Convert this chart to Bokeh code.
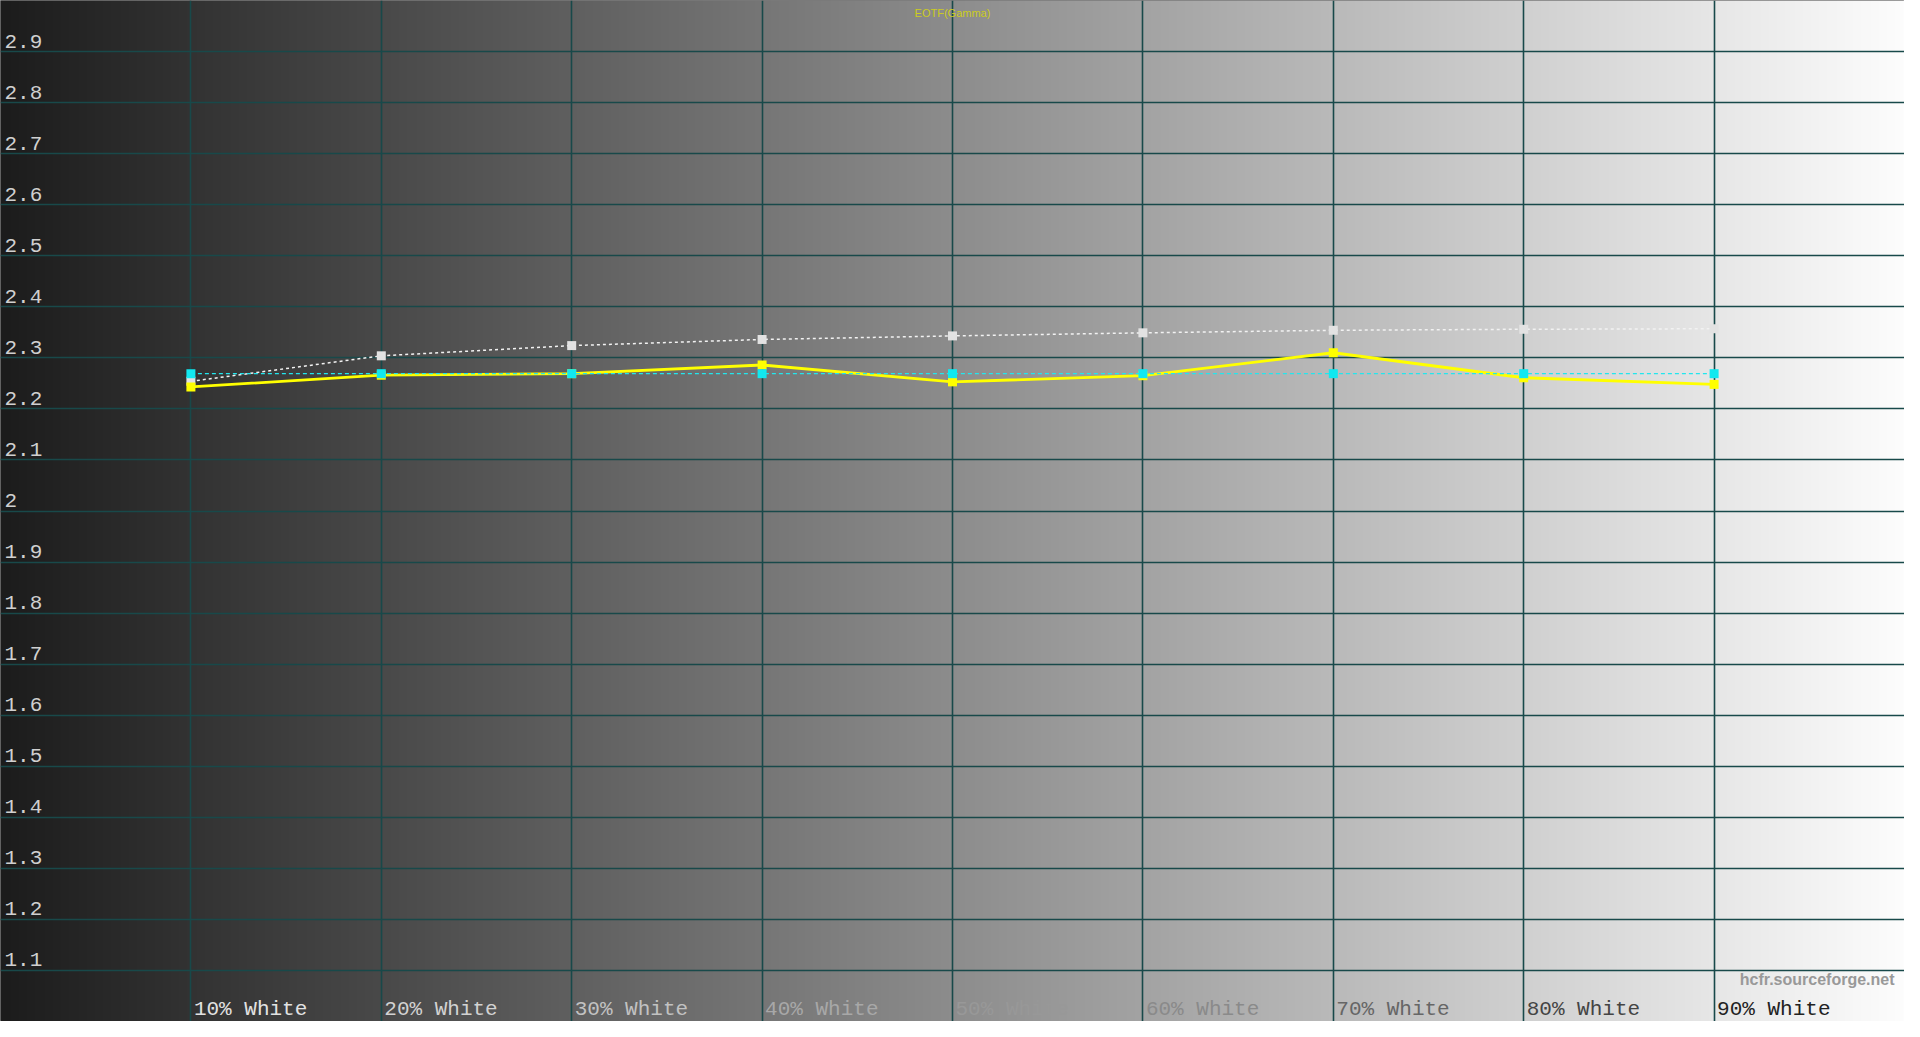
import numpy as np
from bokeh.plotting import figure
from bokeh.models import Range1d, FixedTicker, ColumnDataSource
from bokeh.core.properties import value
from bokeh.embed import file_html
from bokeh.resources import INLINE

# ---------------- data ----------------
categories = ["10% White", "20% White", "30% White", "40% White", "50% White",
              "60% White", "70% White", "80% White", "90% White"]
gamma_measured = [2.243, 2.266, 2.269, 2.286, 2.253, 2.265, 2.310, 2.261, 2.248]   # yellow
gamma_reference = [2.254, 2.304, 2.324, 2.336, 2.343, 2.349, 2.354, 2.356, 2.357]  # white dotted
gamma_target = [2.269, 2.269, 2.269, 2.269, 2.269, 2.269, 2.269, 2.269, 2.269]     # cyan dashed
y_ticks = [1.1, 1.2, 1.3, 1.4, 1.5, 1.6, 1.7, 1.8, 1.9, 2.0,
           2.1, 2.2, 2.3, 2.4, 2.5, 2.6, 2.7, 2.8, 2.9]
y_tick_labels = ["1.1", "1.2", "1.3", "1.4", "1.5", "1.6", "1.7", "1.8", "1.9", "2",
                 "2.1", "2.2", "2.3", "2.4", "2.5", "2.6", "2.7", "2.8", "2.9"]
chart_title = "EOTF(Gamma)"
watermark = "hcfr.sourceforge.net"

# ---------------- figure ----------------
W, H = 1904, 1021
x_pos = list(range(1, len(categories) + 1))

p = figure(width=W, height=H, output_backend="svg", toolbar_location=None,
           x_range=Range1d(0, len(categories) + 1), y_range=Range1d(1.0, 3.0),
           x_axis_location=None, y_axis_location=None, min_border=0)
p.outline_line_color = "#7a7a7a"
p.outline_line_width = 1
p.background_fill_color = "#808080"
p.border_fill_color = "#ffffff"

# horizontal gray gradient background
N = 952
img = np.empty((1, N), dtype=np.uint32)
view = img.view(dtype=np.uint8).reshape((1, N, 4))
g = np.linspace(28, 253, N).astype(np.uint8)
view[0, :, 0] = g
view[0, :, 1] = g
view[0, :, 2] = g
view[0, :, 3] = 255
p.image_rgba(image=[img], x=0, y=1.0, dw=len(categories) + 1, dh=2.0, level="image")

# grid
p.xgrid.ticker = FixedTicker(ticks=x_pos)
p.ygrid.ticker = FixedTicker(ticks=y_ticks)
p.grid.grid_line_color = "#18494a"
p.grid.grid_line_width = 1.6
p.grid.grid_line_alpha = 1.0

# series
src = ColumnDataSource(dict(x=x_pos, meas=gamma_measured, ref=gamma_reference, tgt=gamma_target))
p.line("x", "ref", source=src, line_color="#f2f2f2", line_width=1.5, line_dash="3 3")
p.scatter("x", "ref", source=src, marker="square", size=9, fill_color="#e2e2e2", line_color=None)
p.line("x", "meas", source=src, line_color="#ffff00", line_width=2.8)
p.scatter("x", "meas", source=src, marker="square", size=9, fill_color="#ffff00", line_color=None)
p.line("x", "tgt", source=src, line_color="#22e6ee", line_width=1.3, line_dash="4 3")
p.scatter("x", "tgt", source=src, marker="square", size=9, fill_color="#11e8f0", line_color=None)

# y tick labels
p.text(x=[0] * len(y_ticks), y=y_ticks, text=y_tick_labels, x_offset=4, y_offset=-4,
       text_font=value("Liberation Mono"), text_font_size="21px",
       text_color="#d0d0d0", text_baseline="bottom", text_align="left")

# x category labels (colour fades as background brightens)
label_colors = ["#e2e2e2", "#d2d2d2", "#c2c2c2", "#a8a8a8", "#989898",
                "#8a8a8a", "#666666", "#444444", "#222222"]
p.text(x=x_pos, y=[1.0] * len(x_pos), text=categories, x_offset=3, y_offset=-1,
       text_font=value("Liberation Mono"), text_font_size="21px",
       text_color=label_colors, text_baseline="bottom", text_align="left")

# title
p.text(x=[(len(categories) + 1) / 2], y=[3.0], text=[chart_title], y_offset=6,
       text_font=value("Liberation Sans"), text_font_size="11px",
       text_color="#cccc1e", text_baseline="top", text_align="center")

# watermark
p.text(x=[len(categories) + 1], y=[1.1], text=[watermark], x_offset=-10, y_offset=1,
       text_font=value("Liberation Sans"), text_font_size="16px", text_font_style="bold",
       text_color="#999999", text_baseline="top", text_align="right")

open("out.html", "w").write(file_html(p, INLINE))
